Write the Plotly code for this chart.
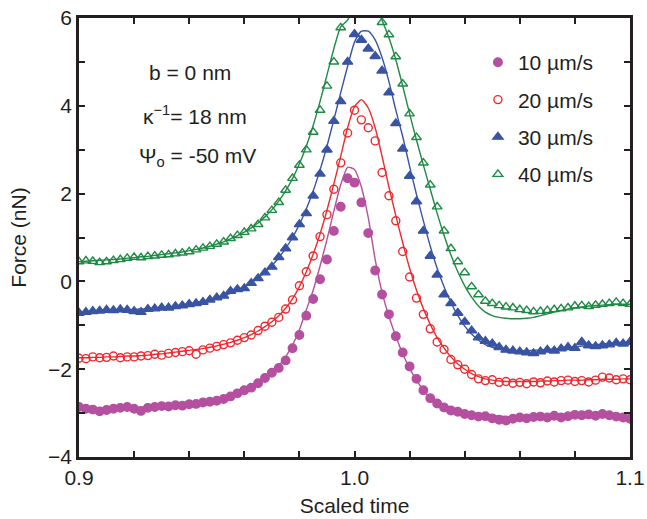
import numpy as np
import plotly.graph_objects as go

# Scaled time sampling (regular step 0.0025 from 0.9 to 1.1)
t = np.round(np.linspace(0.9, 1.1, 81), 4)

labels = ["10 \u00b5m/s", "20 \u00b5m/s", "30 \u00b5m/s", "40 \u00b5m/s"]

# ---- measured data (nN) ----
f10 = [-2.86, -2.90, -2.92, -2.96, -2.93, -2.90, -2.88, -2.86, -2.90, -2.95,
       -2.88, -2.86, -2.84, -2.85, -2.82, -2.83, -2.80, -2.79, -2.76, -2.74,
       -2.72, -2.68, -2.62, -2.55, -2.48, -2.42, -2.32, -2.20, -2.08, -1.97,
       -1.80, -1.52, -1.22, -0.78, -0.40, 0.05, 0.50, 1.15, 1.70, 2.35,
       2.25, 1.80, 1.10, 0.25, -0.30, -0.75, -1.25, -1.62, -1.94, -2.22,
       -2.48, -2.66, -2.78, -2.87, -2.94, -2.97, -3.02, -3.05, -3.08, -3.07,
       -3.12, -3.15, -3.17, -3.13, -3.10, -3.12, -3.09, -3.08, -3.10, -3.06,
       -3.10, -3.07, -3.04, -3.05, -3.03, -3.06, -3.02, -3.05, -3.08, -3.10,
       -3.13]
f20 = [-1.75, -1.76, -1.72, -1.74, -1.73, -1.70, -1.74, -1.72, -1.72, -1.70,
       -1.69, -1.66, -1.68, -1.64, -1.62, -1.60, -1.58, -1.66, -1.56, -1.52,
       -1.48, -1.44, -1.40, -1.34, -1.28, -1.22, -1.12, -1.02, -0.93, -0.82,
       -0.63, -0.42, -0.10, 0.22, 0.58, 1.02, 1.52, 2.10, 2.70, 3.38,
       3.90, 3.68, 3.50, 3.20, 2.48, 1.95, 1.38, 0.68, 0.10, -0.38,
       -0.75, -1.08, -1.38, -1.55, -1.78, -1.90, -2.00, -2.12, -2.22, -2.26,
       -2.24, -2.30, -2.28, -2.32, -2.30, -2.33, -2.29, -2.31, -2.27, -2.29,
       -2.26, -2.25, -2.28, -2.26, -2.29, -2.25, -2.18, -2.20, -2.24, -2.22,
       -2.24]
f30 = [-0.72, -0.70, -0.68, -0.67, -0.65, -0.66, -0.64, -0.65, -0.68, -0.70,
       -0.63, -0.62, -0.60, -0.60, -0.57, -0.55, -0.52, -0.50, -0.47, -0.42,
       -0.37, -0.33, -0.22, -0.18, -0.16, -0.04, 0.07, 0.20, 0.33, 0.55,
       0.75, 1.00, 1.30, 1.55, 1.95, 2.45, 3.00, 3.65, 4.10, 5.00,
       5.63, 5.50, 5.30, 5.13, 4.80, 4.30, 3.60, 3.02, 2.40, 1.82,
       1.15, 0.58, 0.15, -0.30, -0.50, -0.72, -0.92, -1.12, -1.28, -1.36,
       -1.42, -1.50, -1.56, -1.58, -1.60, -1.62, -1.64, -1.60, -1.56, -1.58,
       -1.53, -1.50, -1.52, -1.38, -1.46, -1.48, -1.46, -1.44, -1.40, -1.42,
       -1.38]
f40 = [0.45, 0.47, 0.46, 0.43, 0.45, 0.48, 0.50, 0.53, 0.55, 0.54,
       0.57, 0.58, 0.60, 0.61, 0.63, 0.65, 0.68, 0.72, 0.76, 0.80,
       0.85, 0.90, 0.98, 1.05, 1.12, 1.20, 1.30, 1.45, 1.62, 1.80,
       2.08, 2.35, 2.65, 3.00, 3.40, 3.90, 4.45, 5.00, 5.78, 6.30,
       6.60, 6.60, 6.50, 6.20, 5.90, 5.62, 5.12, 4.50, 3.82, 3.28,
       2.70, 2.20, 1.70, 1.15, 0.75, 0.45, 0.20, -0.12, -0.30, -0.45,
       -0.50, -0.55, -0.58, -0.60, -0.64, -0.66, -0.69, -0.68, -0.66, -0.64,
       -0.62, -0.60, -0.56, -0.55, -0.57, -0.54, -0.52, -0.50, -0.47, -0.50,
       -0.52]

# ---- model fits (nN) ----
g10 = [-2.88, -2.89, -2.90, -2.90, -2.90, -2.89, -2.88, -2.88, -2.87, -2.87,
       -2.86, -2.85, -2.84, -2.83, -2.82, -2.81, -2.80, -2.78, -2.76, -2.74,
       -2.71, -2.67, -2.62, -2.56, -2.49, -2.41, -2.31, -2.19, -2.06, -1.92,
       -1.72, -1.45, -1.10, -0.65, -0.20, 0.35, 0.95, 1.60, 2.20, 2.60,
       2.55, 2.15, 1.45, 0.50, -0.25, -0.80, -1.25, -1.65, -1.98, -2.25,
       -2.48, -2.65, -2.78, -2.87, -2.93, -2.97, -3.00, -3.02, -3.04, -3.05,
       -3.06, -3.07, -3.08, -3.08, -3.08, -3.08, -3.08, -3.08, -3.08, -3.08,
       -3.08, -3.08, -3.08, -3.08, -3.08, -3.08, -3.08, -3.08, -3.09, -3.10,
       -3.11]
g20 = [-1.74, -1.74, -1.73, -1.73, -1.72, -1.72, -1.71, -1.70, -1.70, -1.69,
       -1.68, -1.66, -1.65, -1.63, -1.61, -1.59, -1.57, -1.55, -1.53, -1.50,
       -1.47, -1.43, -1.39, -1.34, -1.28, -1.21, -1.13, -1.03, -0.92, -0.78,
       -0.61, -0.40, -0.12, 0.22, 0.62, 1.08, 1.62, 2.22, 2.85, 3.50,
       3.98, 4.14, 3.95, 3.50, 2.85, 2.15, 1.50, 0.88, 0.30, -0.20,
       -0.62, -0.98, -1.28, -1.52, -1.72, -1.88, -2.00, -2.10, -2.17, -2.22,
       -2.25, -2.27, -2.28, -2.28, -2.28, -2.28, -2.28, -2.27, -2.27, -2.26,
       -2.26, -2.25, -2.25, -2.25, -2.24, -2.24, -2.23, -2.23, -2.23, -2.22,
       -2.22]
g30 = [-0.72, -0.71, -0.70, -0.69, -0.68, -0.67, -0.66, -0.65, -0.64, -0.63,
       -0.62, -0.61, -0.59, -0.58, -0.56, -0.54, -0.52, -0.49, -0.46, -0.42,
       -0.38, -0.33, -0.27, -0.20, -0.12, -0.03, 0.08, 0.21, 0.36, 0.54,
       0.75, 1.00, 1.30, 1.65, 2.06, 2.54, 3.08, 3.68, 4.30, 4.90,
       5.45, 5.70, 5.70, 5.50, 5.10, 4.55, 3.90, 3.30, 2.62, 1.98,
       1.38, 0.80, 0.30, -0.12, -0.48, -0.78, -1.02, -1.20, -1.34, -1.44,
       -1.50, -1.54, -1.57, -1.58, -1.58, -1.58, -1.57, -1.56, -1.55, -1.54,
       -1.52, -1.51, -1.49, -1.47, -1.46, -1.44, -1.43, -1.41, -1.40, -1.39,
       -1.38]
g40 = [0.45, 0.46, 0.47, 0.48, 0.49, 0.50, 0.51, 0.53, 0.54, 0.56,
       0.57, 0.59, 0.61, 0.63, 0.65, 0.67, 0.70, 0.73, 0.76, 0.80,
       0.85, 0.90, 0.97, 1.04, 1.12, 1.22, 1.33, 1.47, 1.63, 1.83,
       2.06, 2.34, 2.68, 3.08, 3.55, 4.10, 4.70, 5.30, 5.80, 5.95,
       6.30, 6.50, 6.50, 6.30, 5.95, 5.55, 5.05, 4.45, 3.82, 3.22,
       2.65, 2.10, 1.55, 1.05, 0.60, 0.22, -0.10, -0.36, -0.56, -0.70,
       -0.78, -0.82, -0.84, -0.85, -0.85, -0.84, -0.82, -0.78, -0.74, -0.70,
       -0.66, -0.63, -0.60, -0.58, -0.56, -0.55, -0.54, -0.53, -0.52, -0.52,
       -0.52]

x_tickvals = [0.9, 1.0, 1.1]
x_ticktext = ["0.9", "1.0", "1.1"]
y_tickvals = [-4, -2, 0, 2, 4, 6]
y_ticktext = ["\u22124", "\u22122", "0", "2", "4", "6"]

colors = ["#B4509F", "#EE2A2E", "#3A54A4", "#1E8A45"]
symbols = ["circle", "circle-open", "triangle-up", "triangle-up-open"]
sizes = [8.5, 8, 9, 8.5]
data = [f10, f20, f30, f40]
fits = [g10, g20, g30, g40]

fig = go.Figure()
for k in range(4):
    fig.add_trace(go.Scatter(
        x=t, y=fits[k], mode="lines", line=dict(color=colors[k], width=1.4, shape="spline", smoothing=0.6),
        showlegend=False, hoverinfo="skip"))
for k in range(4):
    fig.add_trace(go.Scatter(
        x=t, y=data[k], mode="markers", name=labels[k], legendgroup=str(k),
        marker=dict(symbol=symbols[k], size=sizes[k], color=colors[k],
                    line=dict(color=colors[k], width=1.4))))

font_family = "Liberation Sans, Arial, sans-serif"
axis_color = "#231F20"
FS = 21

tick_common = dict(ticks="inside", ticklen=6, tickwidth=1.5, tickcolor=axis_color,
                   showline=True, linecolor=axis_color, linewidth=2.5, mirror="ticks",
                   showgrid=False, zeroline=False, automargin=False,
                   ticklabeloverflow="allow",
                   tickfont=dict(size=FS, color=axis_color, family=font_family))

fig.update_layout(
    width=647, height=519,
    margin=dict(l=79, r=17, t=18, b=62),
    paper_bgcolor="white", plot_bgcolor="white",
    font=dict(family=font_family, size=FS, color=axis_color),
    legend=dict(x=0.724, y=0.945, xanchor="left", yanchor="top",
                font=dict(size=FS, color=axis_color), tracegroupgap=7,
                traceorder="grouped", bgcolor="rgba(0,0,0,0)"),
    xaxis=dict(range=[0.9, 1.1], tickmode="array", tickvals=x_tickvals, ticktext=x_ticktext,
               minor=dict(dtick=0.02, tick0=0.9, ticks="inside", ticklen=6, tickwidth=1.5,
                          tickcolor=axis_color, showgrid=False),
               title=dict(text="Scaled time", standoff=11, font=dict(size=FS)),
               **tick_common),
    yaxis=dict(range=[-4, 6], tickmode="array", tickvals=y_tickvals, ticktext=y_ticktext,
               minor=dict(dtick=1, tick0=-4, ticks="inside", ticklen=6, tickwidth=1.5,
                          tickcolor=axis_color, showgrid=False),
               title=dict(text="Force (nN)", standoff=16, font=dict(size=FS)),
               **tick_common),
)

ann_font = dict(family=font_family, size=FS, color=axis_color)
for txt, py, px in [("b = 0 nm", 72, 190), ("\u03ba<sup>\u22121</sup>= 18 nm", 115, 195),
                    ("\u03a8<sub>o</sub> = -50 mV", 157, 197)]:
    fig.add_annotation(x=(px - 79) / 551, y=(457 - py) / 439, xref="paper", yref="paper",
                       text=txt, showarrow=False, font=ann_font, xanchor="center", yanchor="middle")

# remove the browser's default 8px body margin so the figure fills the window exactly
fig.write_html("out.html", config={"displayModeBar": False},
               post_script="document.body.style.margin='0';")
